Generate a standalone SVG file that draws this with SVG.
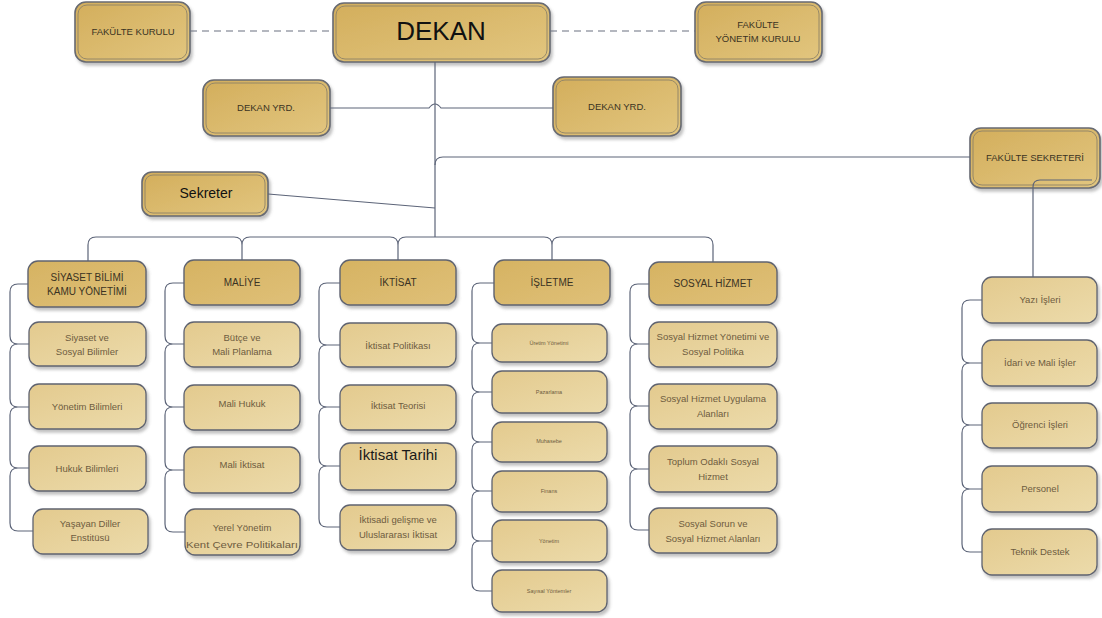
<svg xmlns="http://www.w3.org/2000/svg" width="1102" height="618" viewBox="0 0 1102 618">
<defs>
<linearGradient id="gTop" x1="0" y1="0" x2="1" y2="1">
<stop offset="0" stop-color="#d3ae5c"/><stop offset="1" stop-color="#e2c67f"/>
</linearGradient>
<linearGradient id="gHead" x1="0" y1="0" x2="1" y2="1">
<stop offset="0" stop-color="#d6b362"/><stop offset="1" stop-color="#dfc078"/>
</linearGradient>
<linearGradient id="gSub" x1="0" y1="0" x2="1" y2="1">
<stop offset="0" stop-color="#e3ca8e"/><stop offset="1" stop-color="#ecdbab"/>
</linearGradient>
<filter id="sh" x="-10%" y="-10%" width="125%" height="140%">
<feDropShadow dx="2" dy="3" stdDeviation="1.8" flood-color="#777" flood-opacity="0.45"/>
</filter>
</defs>
<style>
.top{fill:url(#gTop);stroke:#676a72;stroke-width:1.6;filter:url(#sh)}
.inner{fill:none;stroke:#8d8268;stroke-width:0.9}
.head{fill:url(#gHead);stroke:#5f6370;stroke-width:1.4;filter:url(#sh)}
.sub{fill:url(#gSub);stroke:#5f6370;stroke-width:1.3;filter:url(#sh)}
text{font-family:"Liberation Sans Narrow","Liberation Sans",Arial,sans-serif;text-anchor:middle;dominant-baseline:middle}
.t1{font-size:9.5px;fill:#3a3323}
.th{font-size:10px;fill:#3a3323}
.ts{font-size:9.5px;fill:#6e5c40}
.tx{font-size:5.5px;fill:#6e5c40}
.con{fill:none;stroke:#5c6478;stroke-width:1.2}
.dash{fill:none;stroke:#6a7080;stroke-width:1.2;stroke-dasharray:7,5}
</style>
<rect width="1102" height="618" fill="#ffffff"/>

<g id="dekan"><rect class="top" x="333" y="3" width="217" height="59" rx="11"/><rect class="inner" x="336" y="6" width="211" height="53" rx="9"/><text x="441" y="33" style="font-family:'Liberation Sans',Arial,sans-serif;font-size:26px;fill:#111">DEKAN</text></g>
<g id="fakulte-kurulu"><rect class="top" x="75" y="2" width="115" height="60" rx="11"/><rect class="inner" x="78" y="5" width="109" height="54" rx="9"/><text class="t1" x="133" y="32">FAKÜLTE KURULU</text></g>
<g id="fakulte-yonetim-kurulu"><rect class="top" x="695" y="2" width="127" height="60" rx="11"/><rect class="inner" x="698" y="5" width="121" height="54" rx="9"/><text class="t1" x="758" y="25">FAKÜLTE</text><text class="t1" x="758" y="39">YÖNETİM KURULU</text></g>
<g id="dekan-yrd-1"><rect class="top" x="203" y="80" width="127" height="56" rx="11"/><rect class="inner" x="206" y="83" width="121" height="50" rx="9"/><text class="t1" x="266" y="108">DEKAN YRD.</text></g>
<g id="dekan-yrd-2"><rect class="top" x="553" y="77" width="128" height="59" rx="11"/><rect class="inner" x="556" y="80" width="122" height="53" rx="9"/><text class="t1" x="617" y="107">DEKAN YRD.</text></g>
<g id="fakulte-sekreteri"><rect class="top" x="970" y="128" width="130" height="60" rx="11"/><rect class="inner" x="973" y="131" width="124" height="54" rx="9"/><text class="t1" x="1035" y="158">FAKÜLTE SEKRETERİ</text></g>
<g id="sekreter"><rect class="top" x="142" y="172" width="126" height="44" rx="10"/><rect class="inner" x="145" y="175" width="120" height="38" rx="8"/><text x="206" y="194" style="font-size:14px;fill:#111">Sekreter</text></g>

<g id="siyaset"><rect class="head" x="28" y="261" width="118" height="46" rx="10"/><text class="th" x="87" y="278">SİYASET BİLİMİ</text><text class="th" x="87" y="292">KAMU YÖNETİMİ</text></g>
<g id="siyaset-sosyal"><rect class="sub" x="29" y="322" width="117" height="44" rx="10"/><text class="ts" x="87" y="338">Siyaset ve</text><text class="ts" x="87" y="352">Sosyal Bilimler</text></g>
<g id="yonetim-bilimleri"><rect class="sub" x="29" y="384" width="117" height="45" rx="10"/><text class="ts" x="87" y="407">Yönetim Bilimleri</text></g>
<g id="hukuk-bilimleri"><rect class="sub" x="29" y="446" width="117" height="45" rx="10"/><text class="ts" x="87" y="469">Hukuk Bilimleri</text></g>
<g id="yasayan-diller"><rect class="sub" x="33" y="509" width="115" height="45" rx="10"/><text class="ts" x="90" y="524">Yaşayan Diller</text><text class="ts" x="90" y="538">Enstitüsü</text></g>

<g id="maliye"><rect class="head" x="184" y="260" width="116" height="45" rx="10"/><text class="th" x="242" y="283">MALİYE</text></g>
<g id="butce"><rect class="sub" x="184" y="322" width="116" height="45" rx="10"/><text class="ts" x="242" y="338">Bütçe ve</text><text class="ts" x="242" y="352">Mali Planlama</text></g>
<g id="mali-hukuk"><rect class="sub" x="184" y="385" width="116" height="45" rx="10"/><text class="ts" x="242" y="404">Mali Hukuk</text></g>
<g id="mali-iktisat"><rect class="sub" x="184" y="447" width="116" height="46" rx="10"/><text class="ts" x="242" y="465">Mali İktisat</text></g>
<g id="yerel-yonetim"><rect class="sub" x="185" y="509" width="115" height="46" rx="10"/><text class="ts" x="242" y="528">Yerel Yönetim</text><text class="ts" x="242" y="545" textLength="112" lengthAdjust="spacingAndGlyphs">Kent Çevre Politikaları</text></g>

<g id="iktisat"><rect class="head" x="340" y="260" width="116" height="45" rx="10"/><text class="th" x="398" y="283">İKTİSAT</text></g>
<g id="iktisat-politikasi"><rect class="sub" x="340" y="323" width="116" height="44" rx="10"/><text class="ts" x="398" y="346">İktisat Politikası</text></g>
<g id="iktisat-teorisi"><rect class="sub" x="340" y="385" width="116" height="45" rx="10"/><text class="ts" x="398" y="406">İktisat Teorisi</text></g>
<g id="iktisat-tarihi"><rect class="sub" x="340" y="443" width="116" height="47" rx="10"/><text x="398" y="456" style="font-family:'Liberation Sans',Arial,sans-serif;font-size:15px;fill:#1a1a1a">İktisat Tarihi</text></g>
<g id="iktisadi-gelisme"><rect class="sub" x="340" y="505" width="116" height="45" rx="10"/><text class="ts" x="398" y="520">İktisadi gelişme ve</text><text class="ts" x="398" y="535">Uluslararası İktisat</text></g>

<g id="isletme"><rect class="head" x="494" y="260" width="116" height="45" rx="10"/><text class="th" x="552" y="283">İŞLETME</text></g>
<g id="uretim"><rect class="sub" x="492" y="324" width="115" height="38" rx="10"/><text class="tx" x="549" y="344">Üretim Yönetimi</text></g>
<g id="pazarlama"><rect class="sub" x="492" y="371" width="115" height="42" rx="10"/><text class="tx" x="549" y="393">Pazarlama</text></g>
<g id="muhasebe"><rect class="sub" x="492" y="422" width="115" height="40" rx="10"/><text class="tx" x="549" y="442">Muhasebe</text></g>
<g id="finans"><rect class="sub" x="492" y="471" width="115" height="41" rx="10"/><text class="tx" x="549" y="492">Finans</text></g>
<g id="yonetim"><rect class="sub" x="492" y="520" width="115" height="42" rx="10"/><text class="tx" x="549" y="542">Yönetim</text></g>
<g id="sayisal"><rect class="sub" x="492" y="570" width="115" height="42" rx="10"/><text class="tx" x="549" y="592">Sayısal Yöntemler</text></g>

<g id="sosyal-hizmet"><rect class="head" x="649" y="262" width="128" height="43" rx="10"/><text class="th" x="713" y="284">SOSYAL HİZMET</text></g>
<g id="sh-yonetimi"><rect class="sub" x="649" y="322" width="128" height="45" rx="10"/><text class="ts" x="713" y="337">Sosyal Hizmet Yönetimi ve</text><text class="ts" x="713" y="352">Sosyal Politika</text></g>
<g id="sh-uygulama"><rect class="sub" x="649" y="384" width="128" height="45" rx="10"/><text class="ts" x="713" y="399">Sosyal Hizmet Uygulama</text><text class="ts" x="713" y="414">Alanları</text></g>
<g id="toplum-odakli"><rect class="sub" x="649" y="446" width="128" height="46" rx="10"/><text class="ts" x="713" y="462">Toplum Odaklı Sosyal</text><text class="ts" x="713" y="477">Hizmet</text></g>
<g id="sosyal-sorun"><rect class="sub" x="649" y="508" width="128" height="45" rx="10"/><text class="ts" x="713" y="524">Sosyal Sorun ve</text><text class="ts" x="713" y="539">Sosyal Hizmet Alanları</text></g>

<g id="yazi-isleri"><rect class="sub" x="982" y="277" width="115" height="46" rx="10"/><text class="ts" x="1040" y="300">Yazı İşleri</text></g>
<g id="idari-mali"><rect class="sub" x="982" y="340" width="115" height="46" rx="10"/><text class="ts" x="1040" y="363">İdari ve Mali İşler</text></g>
<g id="ogrenci-isleri"><rect class="sub" x="982" y="403" width="115" height="45" rx="10"/><text class="ts" x="1040" y="425">Öğrenci İşleri</text></g>
<g id="personel"><rect class="sub" x="982" y="466" width="115" height="46" rx="10"/><text class="ts" x="1040" y="489">Personel</text></g>
<g id="teknik-destek"><rect class="sub" x="982" y="529" width="115" height="46" rx="10"/><text class="ts" x="1040" y="552">Teknik Destek</text></g>

<g id="connectors">
<path class="dash" d="M190,31 H333 M550,31 H695"/>
<path class="con" d="M435,62 V237"/>
<path class="con" d="M330,108 H429 Q435,100 441,108 H553"/>
<path class="con" d="M435,165 Q435,157 443,157 H970"/>
<path class="con" d="M268,194 L435,208"/>
<path class="con" d="M1092,180 H1040 Q1033,180 1033,187 V277"/>
<path class="con" d="M88,261 V245 Q88,237 96,237 H234 Q242,237 242,245 V260 M242,245 Q242,237 250,237 H390 Q398,237 398,245 V260 M398,245 Q398,237 406,237 H544 Q552,237 552,245 V260 M552,245 Q552,237 560,237 H705 Q713,237 713,245 V262"/>
<path class="con" d="M28,284 H18 Q10,284 10,292 V336 Q10,344 18,344 H29 M18,344 Q10,344 10,352 V399 Q10,407 18,407 H29 M18,407 Q10,407 10,415 V460 Q10,468 18,468 H29 M18,468 Q10,468 10,476 V523 Q10,531 18,531 H33"/>
<path class="con" d="M184,283 H173 Q165,283 165,291 V336 Q165,344 173,344 H184 M173,344 Q165,344 165,352 V399 Q165,407 173,407 H184 M173,407 Q165,407 165,415 V462 Q165,470 173,470 H184 M173,470 Q165,470 165,478 V524 Q165,532 173,532 H185"/>
<path class="con" d="M340,283 H327 Q319,283 319,291 V337 Q319,345 327,345 H340 M327,345 Q319,345 319,353 V399 Q319,407 327,407 H340 M327,407 Q319,407 319,415 V458 Q319,466 327,466 H340 M327,466 Q319,466 319,474 V519 Q319,527 327,527 H340"/>
<path class="con" d="M494,283 H480 Q472,283 472,291 V335 Q472,343 480,343 H492 M480,343 Q472,343 472,351 V384 Q472,392 480,392 H492 M480,392 Q472,392 472,400 V434 Q472,442 480,442 H492 M480,442 Q472,442 472,450 V483 Q472,491 480,491 H492 M480,491 Q472,491 472,499 V533 Q472,541 480,541 H492 M480,541 Q472,541 472,549 V583 Q472,591 480,591 H492"/>
<path class="con" d="M649,284 H638 Q630,284 630,292 V336 Q630,344 638,344 H649 M638,344 Q630,344 630,352 V398 Q630,406 638,406 H649 M638,406 Q630,406 630,414 V461 Q630,469 638,469 H649 M638,469 Q630,469 630,477 V522 Q630,530 638,530 H649"/>
<path class="con" d="M982,300 H970 Q962,300 962,308 V355 Q962,363 970,363 H982 M970,363 Q962,363 962,371 V417 Q962,425 970,425 H982 M970,425 Q962,425 962,433 V481 Q962,489 970,489 H982 M970,489 Q962,489 962,497 V544 Q962,552 970,552 H982"/>
</g>
</svg>
